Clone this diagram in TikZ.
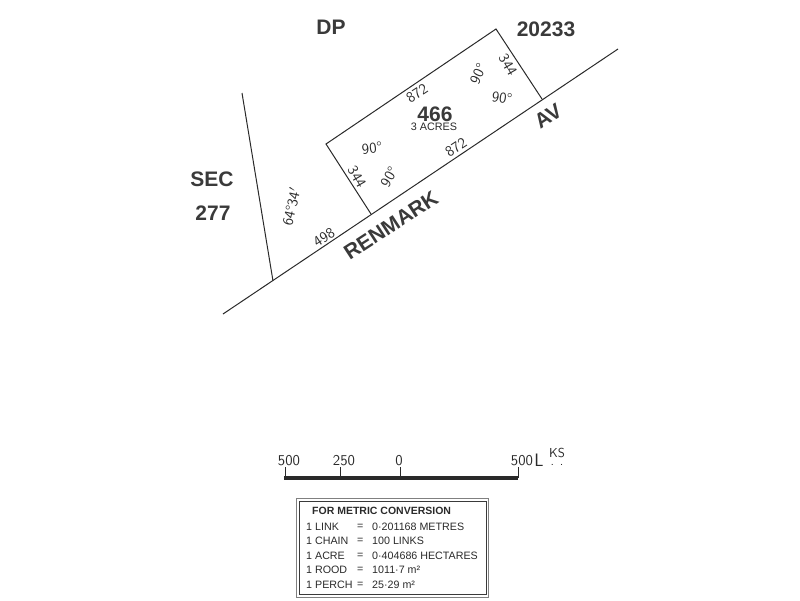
\documentclass[tikz,border=0pt]{standalone}
\usepackage{fontspec}
\setmainfont{Liberation Sans}
\definecolor{inkdark}{HTML}{3A3A3A}
\definecolor{inkline}{HTML}{2A2A2A}
\tikzset{
	bigtext/.style={font=\bfseries\fontsize{21}{21}\selectfont,text=inkdark,inner sep=0pt},
	tabletext/.style={anchor=west,font=\fontsize{10.7}{11}\selectfont,text=inkline,inner sep=0pt},
	handtext/.style={font=\sffamily\fontsize{15}{15}\selectfont,text=inkline,inner sep=0pt},
	scaletext/.style={handtext,font=\sffamily\fontsize{15}{15}\selectfont},
	plotline/.style={draw=inkline,line width=1pt},
}
\begin{document}
\begin{tikzpicture}[x=1pt,y=-1pt]
	\useasboundingbox (0,0) rectangle (800,600);

	% road, side boundary and allotment
	\coordinate (roadstart) at (223,314);
	\coordinate (roadend) at (618,49);
	\coordinate (sidetop) at (242,93);
	\coordinate (sidefoot) at (273,281);
	\coordinate (lotwest) at (326,144);
	\coordinate (lotnorth) at (496,29);
	\coordinate (loteast) at (542,99);
	\coordinate (lotsouth) at (371,214);
	\draw[plotline] (roadstart) -- (roadend);
	\draw[plotline] (sidetop) -- (sidefoot);
	\draw[plotline] (lotsouth) -- (lotwest) -- (lotnorth) -- (loteast);

	\node[bigtext] (dp) at (331,27) {DP};
	\node[bigtext] (plan) at (546,29) {20233};
	\node[bigtext] (sec) at (212,179) {SEC};
	\node[bigtext] (secnum) at (213,213) {277};
	\node[bigtext] (lotnum) at (435,114) {466};
	\node[tabletext,anchor=center,font=\fontsize{10.8}{11}\selectfont] (acres) at (434,127) {3 ACRES};
	\node[bigtext,rotate=33] (renmark) at (391,225) {RENMARK};
	\node[bigtext,rotate=33] (av) at (548,116) {AV};

	% figures along the lines
	\foreach \x/\y/\r/\t [count=\j from 0] in {
		417/93/33/872,
		456/147/33/872,
		508/65/-60/344,
		357/177/-60/344,
		372/148/6/90°,
		389/177/60/90°,
		478/74/65/90°,
		502/98/-8/90°,
		291/207/77/64°34$'$,
		324/237/33/498}
	{
		\node[handtext,rotate=\r] (fig\j) at (\x,\y) {\t};
	}

	% scale bar
	\coordinate (barstart) at (284,478);
	\coordinate (barend) at (518,478);
	\draw[inkline,line width=3.5pt] (barstart) -- (barend);
	\foreach \x/\t/\lx [count=\j from 0] in {285/500/289,340/250/344,400/0/399,518/500/522}
	{
		\coordinate (ticktop\j) at (\x,467);
		\coordinate (tickfoot\j) at (\x,478);
		\draw[plotline] (ticktop\j) -- (tickfoot\j);
		\node[scaletext] (ticklabel\j) at (\lx,461) {\t};
	}
	\node[scaletext,font=\sffamily\fontsize{18}{18}\selectfont] (unitl) at (539,460) {L};
	\node[handtext,font=\sffamily\fontsize{13}{13}\selectfont] (unitks) at (557,453) {KS};
	\node[handtext,font=\sffamily\fontsize{13}{13}\selectfont] (unitdots) at (557,465) {. .};

	% conversion table
	\coordinate (boxa) at (296,498);
	\coordinate (boxb) at (488,597);
	\coordinate (boxc) at (299,501);
	\coordinate (boxd) at (486,594);
	\draw[draw=gray,line width=1pt] (boxa) rectangle (boxb);
	\draw[draw=inkdark,line width=0.8pt] (boxc) rectangle (boxd);
	\node[tabletext,font=\bfseries\fontsize{10.5}{11}\selectfont] (tabletitle) at (312,511) {FOR METRIC CONVERSION};
	\foreach \y/\a/\b [count=\j from 0] in {
		527/1 LINK/0·201168 METRES,
		541/1 CHAIN/100 LINKS,
		556/1 ACRE/0·404686 HECTARES,
		570/1 ROOD/1011·7 m²,
		585/1 PERCH/25·29 m²}
	{
		\node[tabletext] (rowname\j) at (306,\y) {\a};
		\node[tabletext] (roweq\j) at (357,\y) {=};
		\node[tabletext] (rowval\j) at (372,\y) {\b};
	}
\end{tikzpicture}
\end{document}
